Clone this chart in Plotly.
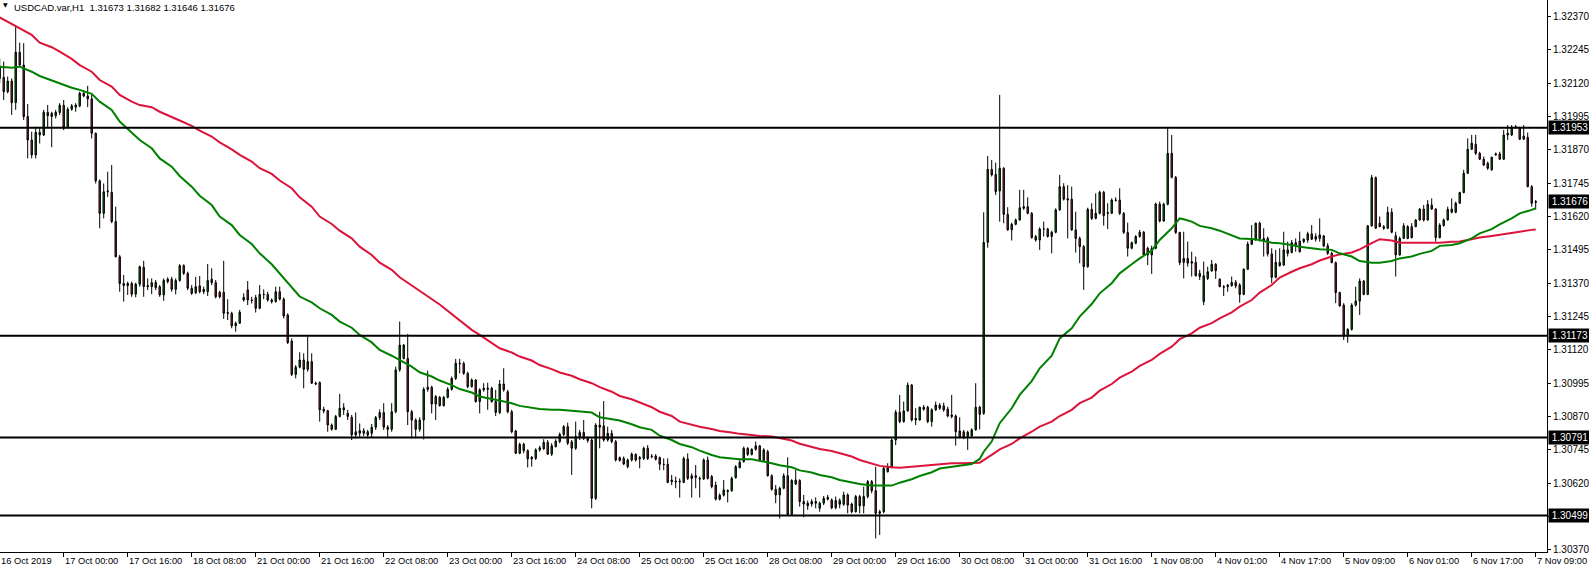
import plotly.graph_objects as go

# ---------------- data (USDCAD H1) ----------------
bar_open = [
1.32138,1.32142,1.32088,1.32128,1.32047,1.32236,1.32188,1.31995,1.31907,1.31851,
1.31936,1.31926,1.32011,1.32007,1.31998,1.32010,1.32037,1.31953,1.32022,1.32030,
1.32035,1.32082,1.32072,1.32061,1.31932,1.31754,1.31632,1.31713,1.31711,1.31601,
1.31469,1.31369,1.31361,1.31369,1.31329,1.31366,1.31430,1.31361,1.31357,1.31373,
1.31357,1.31326,1.31376,1.31385,1.31347,1.31380,1.31436,1.31407,1.31351,1.31334,
1.31360,1.31347,1.31338,1.31385,1.31372,1.31336,1.31336,1.31260,1.31257,1.31210,
1.31220,1.31307,1.31345,1.31307,1.31316,1.31276,1.31328,1.31328,1.31307,1.31301,
1.31338,1.31310,1.31251,1.31153,1.31028,1.31055,1.31082,1.31047,1.31076,1.30995,
1.30998,1.30897,1.30892,1.30838,1.30822,1.30870,1.30903,1.30882,1.30867,1.30813,
1.30807,1.30817,1.30813,1.30807,1.30830,1.30866,1.30885,1.30830,1.30822,1.30888,
1.31045,1.31088,1.31088,1.30888,1.30857,1.30822,1.30857,1.30972,1.30980,1.30917,
1.30942,1.30911,1.30942,1.30972,1.31013,1.31070,1.31069,1.31032,1.30982,1.31007,
1.30926,1.30970,1.30972,1.30976,1.30926,1.30885,1.30992,1.30963,1.30888,1.30816,
1.30732,1.30766,1.30742,1.30711,1.30713,1.30745,1.30749,1.30773,1.30729,1.30757,
1.30776,1.30803,1.30832,1.30775,1.30751,1.30792,1.30810,1.30788,1.30782,1.30563,
1.30838,1.30835,1.30782,1.30807,1.30776,1.30716,1.30713,1.30682,1.30707,1.30728,
1.30711,1.30713,1.30751,1.30722,1.30722,1.30716,1.30691,1.30691,1.30632,1.30628,
1.30628,1.30623,1.30711,1.30648,1.30648,1.30638,1.30636,1.30707,1.30645,1.30613,
1.30560,1.30575,1.30588,1.30592,1.30641,1.30678,1.30701,1.30751,1.30728,1.30747,
1.30760,1.30705,1.30738,1.30648,1.30597,1.30576,1.30601,1.30648,1.30503,1.30617,
1.30630,1.30551,1.30535,1.30542,1.30551,1.30526,1.30545,1.30560,1.30557,1.30528,
1.30555,1.30541,1.30576,1.30542,1.30513,1.30570,1.30535,1.30570,1.30626,1.30592,
1.30507,1.30513,1.30663,1.30680,1.30782,1.30886,1.30851,1.30891,1.30988,1.30863,
1.30857,1.30897,1.30905,1.30851,1.30895,1.30913,1.30910,1.30898,1.30876,1.30872,
1.30792,1.30813,1.30795,1.30797,1.30820,1.30905,1.30882,1.31523,1.31797,1.31778,
1.31716,1.31801,1.31628,1.31570,1.31591,1.31607,1.31651,1.31657,1.31632,1.31545,
1.31532,1.31573,1.31573,1.31545,1.31561,1.31645,1.31732,1.31687,1.31685,1.31570,
1.31538,1.31507,1.31432,1.31647,1.31613,1.31632,1.31711,1.31635,1.31632,1.31682,
1.31682,1.31632,1.31560,1.31501,1.31520,1.31545,1.31561,1.31501,1.31476,1.31501,
1.31667,1.31603,1.31666,1.31857,1.31767,1.31560,1.31448,1.31463,1.31451,1.31448,
1.31407,1.31301,1.31388,1.31416,1.31441,1.31385,1.31357,1.31357,1.31373,1.31373,
1.31363,1.31328,1.31422,1.31516,1.31532,1.31595,1.31538,1.31538,1.31480,1.31392,
1.31448,1.31438,1.31495,1.31485,1.31522,1.31528,1.31526,1.31532,1.31555,1.31545,
1.31538,1.31547,1.31510,1.31482,1.31447,1.31335,1.31288,1.31172,1.31197,1.31288,
1.31303,1.31378,1.31328,1.31585,1.31766,1.31595,1.31582,1.31576,1.31636,1.31548,
1.31476,1.31538,1.31538,1.31582,1.31582,1.31607,1.31648,1.31607,1.31663,1.31648,
1.31541,1.31586,1.31607,1.31648,1.31636,1.31670,1.31710,1.31782,1.31872,1.31891,
1.31857,1.31835,1.31820,1.31795,1.31851,1.31855,1.31835,1.31926,1.31926,1.31957,
1.31953,1.31922,1.31917,1.31732,1.31673]

bar_high = [
1.32213,1.32201,1.32145,1.32138,1.32332,1.32272,1.32270,1.32042,1.31938,1.31957,
1.31951,1.32020,1.32038,1.32013,1.32020,1.32045,1.32057,1.32030,1.32042,1.32045,
1.32088,1.32092,1.32110,1.32076,1.31935,1.31759,1.31744,1.31788,1.31813,1.31657,
1.31476,1.31401,1.31376,1.31376,1.31372,1.31436,1.31454,1.31388,1.31388,1.31382,
1.31363,1.31388,1.31392,1.31394,1.31388,1.31441,1.31441,1.31413,1.31363,1.31394,
1.31397,1.31357,1.31442,1.31426,1.31382,1.31342,1.31454,1.31310,1.31263,1.31226,
1.31270,1.31332,1.31378,1.31319,1.31326,1.31363,1.31347,1.31338,1.31313,1.31357,
1.31357,1.31317,1.31257,1.31163,1.31063,1.31111,1.31107,1.31170,1.31107,1.31001,
1.31001,1.30907,1.30895,1.30844,1.30876,1.30955,1.30920,1.30895,1.30876,1.30885,
1.30844,1.30826,1.30820,1.30842,1.30872,1.30897,1.30920,1.30838,1.30920,1.31057,
1.31226,1.31142,1.31180,1.30895,1.30863,1.30867,1.30980,1.31042,1.30985,1.30951,
1.30947,1.30947,1.30980,1.31020,1.31086,1.31086,1.31076,1.31038,1.31013,1.31010,
1.30976,1.30995,1.30997,1.30982,1.30970,1.31007,1.31051,1.30970,1.30895,1.30820,
1.30772,1.30772,1.30747,1.30722,1.30751,1.30760,1.30785,1.30782,1.30770,1.30785,
1.30810,1.30838,1.30847,1.30782,1.30851,1.30820,1.30857,1.30795,1.30788,1.30845,
1.30888,1.30928,1.30832,1.30820,1.30782,1.30720,1.30720,1.30713,1.30735,1.30732,
1.30722,1.30757,1.30763,1.30729,1.30729,1.30720,1.30713,1.30713,1.30651,1.30645,
1.30638,1.30720,1.30732,1.30657,1.30688,1.30645,1.30713,1.30720,1.30651,1.30626,
1.30582,1.30632,1.30597,1.30645,1.30688,1.30707,1.30757,1.30755,1.30751,1.30776,
1.30763,1.30751,1.30745,1.30653,1.30613,1.30607,1.30657,1.30717,1.30635,1.30670,
1.30635,1.30576,1.30555,1.30560,1.30567,1.30551,1.30572,1.30576,1.30563,1.30570,
1.30563,1.30588,1.30582,1.30547,1.30576,1.30576,1.30607,1.30632,1.30632,1.30682,
1.30520,1.30682,1.30695,1.30788,1.30895,1.30951,1.30926,1.30998,1.30992,1.30901,
1.30907,1.30913,1.30910,1.30901,1.30926,1.30920,1.30922,1.30907,1.30951,1.30878,
1.30867,1.30820,1.30817,1.30826,1.30995,1.30910,1.31636,1.31847,1.31832,1.31822,
1.32076,1.31805,1.31655,1.31597,1.31613,1.31720,1.31720,1.31692,1.31637,1.31551,
1.31580,1.31601,1.31578,1.31567,1.31651,1.31776,1.31745,1.31738,1.31732,1.31638,
1.31545,1.31513,1.31653,1.31670,1.31707,1.31717,1.31716,1.31670,1.31688,1.31692,
1.31726,1.31637,1.31597,1.31526,1.31550,1.31570,1.31566,1.31507,1.31511,1.31672,
1.31676,1.31672,1.31951,1.31926,1.31772,1.31563,1.31563,1.31526,1.31488,1.31470,
1.31420,1.31451,1.31432,1.31457,1.31445,1.31388,1.31363,1.31367,1.31395,1.31382,
1.31370,1.31426,1.31526,1.31588,1.31597,1.31601,1.31576,1.31545,1.31501,1.31495,
1.31501,1.31563,1.31526,1.31532,1.31538,1.31563,1.31538,1.31563,1.31588,1.31557,
1.31613,1.31551,1.31520,1.31488,1.31451,1.31338,1.31295,1.31201,1.31295,1.31357,
1.31388,1.31382,1.31588,1.31776,1.31770,1.31620,1.31588,1.31657,1.31651,1.31563,
1.31545,1.31595,1.31588,1.31595,1.31610,1.31651,1.31663,1.31682,1.31688,1.31651,
1.31595,1.31613,1.31657,1.31688,1.31676,1.31713,1.31795,1.31913,1.31926,1.31926,
1.31863,1.31845,1.31826,1.31845,1.31860,1.31863,1.31945,1.31963,1.31963,1.31963,
1.31957,1.31963,1.31935,1.31738,1.31682]

bar_low = [
1.32120,1.32057,1.32082,1.32001,1.32020,1.32182,1.31982,1.31838,1.31838,1.31838,
1.31894,1.31922,1.31954,1.31880,1.31988,1.32001,1.31944,1.31951,1.32017,1.32013,
1.32030,1.32067,1.32030,1.31913,1.31744,1.31576,1.31613,1.31694,1.31595,1.31467,
1.31338,1.31301,1.31326,1.31319,1.31317,1.31357,1.31319,1.31344,1.31329,1.31344,
1.31319,1.31304,1.31369,1.31338,1.31328,1.31376,1.31401,1.31344,1.31326,1.31329,
1.31332,1.31329,1.31322,1.31363,1.31313,1.31313,1.31236,1.31232,1.31201,1.31188,
1.31217,1.31301,1.31288,1.31294,1.31260,1.31272,1.31310,1.31301,1.31294,1.31297,
1.31305,1.31238,1.31142,1.31022,1.31013,1.31051,1.30976,1.31038,1.30992,1.30988,
1.30851,1.30882,1.30813,1.30817,1.30820,1.30867,1.30876,1.30857,1.30782,1.30788,
1.30794,1.30797,1.30788,1.30794,1.30820,1.30857,1.30820,1.30788,1.30813,1.30882,
1.31038,1.31084,1.30838,1.30788,1.30788,1.30813,1.30784,1.30963,1.30882,1.30857,
1.30907,1.30907,1.30938,1.30967,1.31007,1.31032,1.31026,1.30976,1.30979,1.30922,
1.30882,1.30963,1.30895,1.30922,1.30872,1.30879,1.30963,1.30882,1.30807,1.30729,
1.30729,1.30732,1.30679,1.30682,1.30707,1.30738,1.30745,1.30726,1.30722,1.30754,
1.30770,1.30797,1.30763,1.30651,1.30745,1.30782,1.30782,1.30772,1.30526,1.30557,
1.30751,1.30776,1.30776,1.30770,1.30701,1.30701,1.30688,1.30676,1.30701,1.30701,
1.30676,1.30707,1.30707,1.30713,1.30705,1.30669,1.30669,1.30620,1.30613,1.30601,
1.30566,1.30620,1.30632,1.30566,1.30601,1.30566,1.30632,1.30634,1.30601,1.30555,
1.30555,1.30570,1.30548,1.30588,1.30637,1.30676,1.30697,1.30722,1.30724,1.30742,
1.30701,1.30701,1.30645,1.30592,1.30545,1.30488,1.30597,1.30497,1.30501,1.30613,
1.30532,1.30492,1.30520,1.30532,1.30526,1.30513,1.30538,1.30555,1.30522,1.30522,
1.30526,1.30535,1.30507,1.30507,1.30510,1.30507,1.30507,1.30563,1.30582,1.30413,
1.30426,1.30507,1.30660,1.30676,1.30763,1.30845,1.30847,1.30888,1.30851,1.30838,
1.30855,1.30892,1.30845,1.30832,1.30891,1.30895,1.30888,1.30867,1.30863,1.30761,
1.30788,1.30785,1.30745,1.30792,1.30817,1.30822,1.30876,1.31503,1.31770,1.31701,
1.31601,1.31595,1.31567,1.31530,1.31587,1.31605,1.31645,1.31628,1.31537,1.31526,
1.31495,1.31545,1.31541,1.31482,1.31557,1.31642,1.31680,1.31538,1.31566,1.31485,
1.31445,1.31345,1.31428,1.31607,1.31610,1.31628,1.31586,1.31573,1.31630,1.31676,
1.31626,1.31555,1.31470,1.31497,1.31516,1.31541,1.31472,1.31438,1.31405,1.31497,
1.31598,1.31601,1.31662,1.31763,1.31555,1.31438,1.31388,1.31432,1.31395,1.31395,
1.31382,1.31288,1.31382,1.31413,1.31386,1.31355,1.31322,1.31338,1.31357,1.31351,
1.31297,1.31325,1.31420,1.31513,1.31530,1.31526,1.31470,1.31470,1.31370,1.31388,
1.31432,1.31435,1.31470,1.31482,1.31488,1.31485,1.31520,1.31522,1.31532,1.31526,
1.31526,1.31505,1.31476,1.31445,1.31295,1.31282,1.31157,1.31147,1.31192,1.31282,
1.31251,1.31325,1.31325,1.31582,1.31574,1.31580,1.31570,1.31573,1.31557,1.31395,
1.31473,1.31536,1.31535,1.31538,1.31580,1.31605,1.31601,1.31605,1.31645,1.31526,
1.31538,1.31582,1.31605,1.31632,1.31632,1.31667,1.31707,1.31780,1.31870,1.31851,
1.31832,1.31810,1.31795,1.31792,1.31848,1.31832,1.31832,1.31907,1.31922,1.31951,
1.31907,1.31907,1.31730,1.31657,1.31646]

bar_close = [
1.32182,1.32088,1.32128,1.32047,1.32236,1.32188,1.31995,1.31907,1.31851,1.31936,
1.31926,1.32011,1.31998,1.31995,1.32011,1.32037,1.31953,1.32022,1.32035,1.32038,
1.32082,1.32072,1.32061,1.31932,1.31754,1.31632,1.31713,1.31716,1.31601,1.31469,
1.31369,1.31361,1.31369,1.31329,1.31366,1.31432,1.31357,1.31357,1.31372,1.31353,
1.31326,1.31380,1.31385,1.31347,1.31380,1.31436,1.31407,1.31351,1.31332,1.31357,
1.31338,1.31338,1.31380,1.31372,1.31319,1.31319,1.31257,1.31257,1.31210,1.31220,
1.31261,1.31317,1.31307,1.31305,1.31276,1.31328,1.31327,1.31307,1.31301,1.31338,
1.31310,1.31247,1.31147,1.31028,1.31055,1.31082,1.31047,1.31076,1.30995,1.30992,
1.30895,1.30891,1.30838,1.30822,1.30870,1.30901,1.30895,1.30870,1.30801,1.30801,
1.30817,1.30807,1.30801,1.30830,1.30866,1.30885,1.30830,1.30822,1.30888,1.31045,
1.31138,1.31138,1.30888,1.30857,1.30822,1.30857,1.30972,1.30980,1.30917,1.30945,
1.30911,1.30942,1.30972,1.31013,1.31070,1.31068,1.31032,1.30982,1.31007,1.30926,
1.30970,1.30976,1.30976,1.30926,1.30885,1.30992,1.30970,1.30888,1.30813,1.30732,
1.30766,1.30742,1.30711,1.30717,1.30745,1.30753,1.30773,1.30729,1.30760,1.30778,
1.30803,1.30832,1.30770,1.30751,1.30795,1.30810,1.30788,1.30780,1.30563,1.30838,
1.30830,1.30782,1.30807,1.30776,1.30707,1.30705,1.30692,1.30707,1.30729,1.30707,
1.30716,1.30751,1.30713,1.30720,1.30710,1.30691,1.30690,1.30623,1.30626,1.30625,
1.30625,1.30713,1.30638,1.30638,1.30642,1.30636,1.30707,1.30638,1.30607,1.30560,
1.30575,1.30595,1.30592,1.30638,1.30682,1.30698,1.30751,1.30728,1.30747,1.30760,
1.30705,1.30745,1.30648,1.30597,1.30576,1.30601,1.30648,1.30503,1.30630,1.30632,
1.30551,1.30542,1.30545,1.30551,1.30545,1.30545,1.30563,1.30567,1.30528,1.30555,
1.30541,1.30576,1.30538,1.30513,1.30570,1.30535,1.30570,1.30626,1.30592,1.30507,
1.30513,1.30676,1.30682,1.30782,1.30886,1.30851,1.30891,1.30988,1.30857,1.30857,
1.30905,1.30905,1.30851,1.30895,1.30913,1.30901,1.30895,1.30872,1.30870,1.30813,
1.30816,1.30792,1.30811,1.30820,1.30905,1.30878,1.31523,1.31797,1.31776,1.31713,
1.31801,1.31628,1.31570,1.31591,1.31607,1.31653,1.31657,1.31632,1.31541,1.31532,
1.31573,1.31573,1.31545,1.31561,1.31645,1.31732,1.31685,1.31682,1.31570,1.31538,
1.31507,1.31432,1.31647,1.31613,1.31632,1.31711,1.31623,1.31632,1.31682,1.31681,
1.31632,1.31560,1.31501,1.31522,1.31545,1.31561,1.31476,1.31476,1.31501,1.31667,
1.31603,1.31666,1.31857,1.31767,1.31560,1.31447,1.31463,1.31445,1.31445,1.31398,
1.31395,1.31398,1.31413,1.31441,1.31417,1.31357,1.31355,1.31363,1.31361,1.31360,
1.31328,1.31422,1.31517,1.31532,1.31595,1.31538,1.31530,1.31480,1.31392,1.31448,
1.31436,1.31495,1.31482,1.31522,1.31510,1.31488,1.31535,1.31555,1.31535,1.31535,
1.31551,1.31510,1.31482,1.31447,1.31335,1.31285,1.31172,1.31197,1.31288,1.31303,
1.31378,1.31328,1.31585,1.31766,1.31576,1.31582,1.31576,1.31636,1.31561,1.31476,
1.31538,1.31585,1.31582,1.31541,1.31607,1.31648,1.31607,1.31666,1.31648,1.31541,
1.31588,1.31607,1.31647,1.31636,1.31670,1.31710,1.31782,1.31872,1.31895,1.31857,
1.31835,1.31813,1.31801,1.31842,1.31855,1.31835,1.31926,1.31932,1.31953,1.31953,
1.31910,1.31910,1.31732,1.31670,1.31676]

bar_index = list(range(len(bar_close)))

# moving averages (values read at these bar numbers)
fast_ma_bar = [0,3,5,8,10,13,15,18,20,23,25,28,30,33,35,38,40,43,45,48,
 50,53,55,58,60,63,65,68,70,73,75,78,80,83,85,88,90,93,95,98,
 100,103,105,108,110,113,115,118,120,123,125,128,130,133,135,138,140,143,145,148,
 150,153,155,158,160,163,165,168,170,173,175,178,180,183,185,188,190,193,195,198,
 200,203,205,208,210,213,215,218,220,223,225,228,230,233,235,238,240,243,245,246,
 248,250,253,255,258,260,263,265,268,270,273,275,278,280,283,285,288,290,293,295,
 296,298,300,303,305,308,310,313,315,318,320,323,325,328,330,333,335,338,340,343,
 345,348,350,353,355,358,360,363,365,368,370,373,375,378,380,383,384]
fast_ma_val = [
1.32182,1.32178,1.32182,1.32163,1.32147,1.32130,1.32117,1.32103,1.32095,1.32080,
1.32051,1.32020,1.31976,1.31936,1.31907,1.31876,1.31838,1.31807,1.31772,1.31732,
1.31698,1.31663,1.31620,1.31588,1.31551,1.31517,1.31482,1.31441,1.31407,1.31357,
1.31320,1.31298,1.31276,1.31251,1.31226,1.31203,1.31176,1.31148,1.31120,1.31098,
1.31082,1.31057,1.31036,1.31020,1.31005,1.30988,1.30973,1.30960,1.30945,1.30936,
1.30928,1.30920,1.30910,1.30903,1.30898,1.30895,1.30895,1.30892,1.30890,1.30885,
1.30867,1.30861,1.30855,1.30841,1.30830,1.30820,1.30798,1.30782,1.30767,1.30755,
1.30742,1.30726,1.30717,1.30713,1.30710,1.30710,1.30705,1.30695,1.30687,1.30680,
1.30668,1.30660,1.30651,1.30642,1.30632,1.30622,1.30617,1.30611,1.30610,1.30611,
1.30622,1.30635,1.30647,1.30661,1.30675,1.30682,1.30686,1.30692,1.30711,1.30738,
1.30776,1.30845,1.30901,1.30951,1.31003,1.31051,1.31098,1.31163,1.31201,1.31245,
1.31292,1.31332,1.31370,1.31407,1.31441,1.31463,1.31492,1.31532,1.31576,1.31613,
1.31610,1.31601,1.31585,1.31576,1.31567,1.31548,1.31538,1.31536,1.31532,1.31522,
1.31520,1.31513,1.31507,1.31501,1.31497,1.31495,1.31482,1.31470,1.31453,1.31447,
1.31447,1.31453,1.31463,1.31470,1.31480,1.31491,1.31510,1.31513,1.31520,1.31538,
1.31557,1.31573,1.31591,1.31613,1.31632,1.31645,1.31651]

slow_ma_bar = [0,5,8,10,13,15,18,20,23,25,28,30,33,35,38,40,43,45,48,50,
 53,55,58,60,63,65,68,70,73,75,78,80,83,85,88,90,93,95,98,100,
 110,118,120,123,125,128,130,133,135,138,140,143,145,148,150,153,155,158,160,163,
 165,168,170,173,175,178,180,183,185,188,190,193,195,198,200,203,205,208,210,213,
 215,218,220,223,225,228,230,233,235,238,240,243,245,248,250,253,255,258,260,263,
 265,268,270,273,275,278,280,283,285,288,290,293,295,298,300,303,305,308,310,313,
 315,318,320,323,325,328,330,333,335,338,340,343,345,348,350,353,355,358,360,363,
 365,368,370,373,375,378,380,383,384]
slow_ma_val = [
1.32367,1.32326,1.32301,1.32272,1.32255,1.32238,1.32211,1.32188,1.32163,1.32132,
1.32107,1.32076,1.32051,1.32038,1.32030,1.32013,1.31995,1.31980,1.31960,1.31942,
1.31920,1.31898,1.31872,1.31851,1.31826,1.31801,1.31780,1.31755,1.31726,1.31692,
1.31657,1.31620,1.31592,1.31567,1.31538,1.31507,1.31476,1.31447,1.31420,1.31392,
1.31290,1.31195,1.31176,1.31147,1.31126,1.31110,1.31095,1.31080,1.31063,1.31048,
1.31035,1.31023,1.31010,1.30995,1.30980,1.30963,1.30947,1.30935,1.30922,1.30905,
1.30888,1.30872,1.30851,1.30838,1.30832,1.30823,1.30816,1.30810,1.30805,1.30801,
1.30797,1.30795,1.30788,1.30780,1.30768,1.30757,1.30748,1.30741,1.30732,1.30720,
1.30707,1.30695,1.30685,1.30680,1.30678,1.30682,1.30685,1.30687,1.30691,1.30695,
1.30695,1.30697,1.30697,1.30726,1.30747,1.30767,1.30788,1.30813,1.30832,1.30851,
1.30872,1.30895,1.30920,1.30941,1.30967,1.30992,1.31016,1.31038,1.31060,1.31082,
1.31105,1.31132,1.31160,1.31182,1.31203,1.31220,1.31238,1.31261,1.31282,1.31307,
1.31335,1.31363,1.31391,1.31413,1.31426,1.31441,1.31455,1.31470,1.31478,1.31485,
1.31497,1.31520,1.31535,1.31530,1.31522,1.31522,1.31522,1.31522,1.31522,1.31525,
1.31526,1.31535,1.31541,1.31547,1.31551,1.31557,1.31563,1.31570,1.31571]

# time axis labels (bar number of each labelled bar)
first_time_label = "16 Oct 2019"
time_tick_bars = [16,32,48,64,80,96,112,128,144,160,176,192,
                  208,224,240,256,272,288,304,320,336,352,368,384]
time_tick_labels = ["17 Oct 00:00","17 Oct 16:00","18 Oct 08:00","21 Oct 00:00",
                    "21 Oct 16:00","22 Oct 08:00","23 Oct 00:00","23 Oct 16:00",
                    "24 Oct 08:00","25 Oct 00:00","25 Oct 16:00","28 Oct 08:00",
                    "29 Oct 00:00","29 Oct 16:00","30 Oct 08:00","31 Oct 00:00",
                    "31 Oct 16:00","1 Nov 08:00","4 Nov 01:00","4 Nov 17:00",
                    "5 Nov 09:00","6 Nov 01:00","6 Nov 17:00","7 Nov 09:00"]

price_ticks = [1.30370,1.30495,1.30620,1.30745,1.30870,1.30995,1.31120,1.31245,
               1.31370,1.31495,1.31620,1.31745,1.31870,1.31995,1.32120,1.32245,1.32370]
level_prices = [1.31953, 1.31173, 1.30791, 1.30499]
last_price = 1.31676
header_text = "USDCAD.var,H1\u00a0\u00a01.31673 1.31682 1.31646 1.31676"

# ---------------- figure ----------------
FONT = "Arial, Liberation Sans, sans-serif"
fig = go.Figure()
fig.add_trace(go.Candlestick(
    x=bar_index, open=bar_open, high=bar_high, low=bar_low, close=bar_close,
    increasing=dict(fillcolor="#008000", line=dict(color="black", width=1)),
    decreasing=dict(fillcolor="#A52A2A", line=dict(color="black", width=1)),
    whiskerwidth=0, hoverinfo="skip", showlegend=False))
fig.add_trace(go.Scatter(x=slow_ma_bar, y=slow_ma_val, mode="lines",
                         line=dict(color="#DC143C", width=2), hoverinfo="skip",
                         showlegend=False))
fig.add_trace(go.Scatter(x=fast_ma_bar, y=fast_ma_val, mode="lines",
                         line=dict(color="#008000", width=2), hoverinfo="skip",
                         showlegend=False))

for p in level_prices:
    fig.add_shape(type="line", xref="paper", x0=0, x1=1, yref="y", y0=p, y1=p,
                  line=dict(color="black", width=2), layer="above")

ann = []
ann.append(dict(x=0, y=1, xref="paper", yref="paper", xanchor="left", yanchor="top",
                xshift=12, yshift=0, text=header_text, showarrow=False,
                font=dict(family=FONT, size=9.5, color="black")))
ann.append(dict(x=0, y=1, xref="paper", yref="paper", xanchor="left", yanchor="top",
                xshift=1, yshift=1, text="\u25bc", showarrow=False,
                font=dict(family="DejaVu Sans", size=6, color="black")))
ann.append(dict(x=0, y=0, xref="paper", yref="paper", xanchor="left", yanchor="top",
                xshift=-1, yshift=-2, text=first_time_label, showarrow=False,
                font=dict(family=FONT, size=9.3, color="black")))
for b, lab in zip(time_tick_bars, time_tick_labels):
    ann.append(dict(x=b, y=0, xref="x", yref="paper", xanchor="left", yanchor="top",
                    xshift=-1, yshift=-2, text=lab, showarrow=False,
                    font=dict(family=FONT, size=9.3, color="black")))
for p in level_prices + [last_price]:
    ann.append(dict(x=1, y=p, xref="paper", yref="y", xanchor="left", yanchor="middle",
                    xshift=1, text=f"{p:.5f}", showarrow=False, bgcolor="black",
                    borderpad=1, width=40, height=11, align="center",
                    font=dict(family=FONT, size=10, color="white")))

fig.update_layout(
    width=1589, height=569,
    margin=dict(l=0, r=42, t=0, b=17),
    paper_bgcolor="white", plot_bgcolor="white",
    showlegend=False, boxgap=0.5,
    font=dict(family=FONT, size=9.3, color="black"),
    annotations=ann)
fig.update_xaxes(range=[0.075, 386.825], rangeslider_visible=False,
                 showgrid=False, zeroline=False, showline=True, linecolor="black",
                 linewidth=1, ticks="outside", ticklen=4, tickcolor="black",
                 tickvals=time_tick_bars, showticklabels=False)
fig.update_yaxes(side="right", range=[1.30362, 1.32432], showgrid=False,
                 zeroline=False, showline=True, linecolor="black", linewidth=1,
                 ticks="outside", ticklen=3, tickcolor="black",
                 tickvals=price_ticks, ticktext=[f"{v:.5f}" for v in price_ticks],
                 tickfont=dict(family=FONT, size=10, color="black"))

fig.write_html("out.html", config={"displayModeBar": False},
               post_script="document.body.style.margin='0';document.body.style.overflow='hidden';")
